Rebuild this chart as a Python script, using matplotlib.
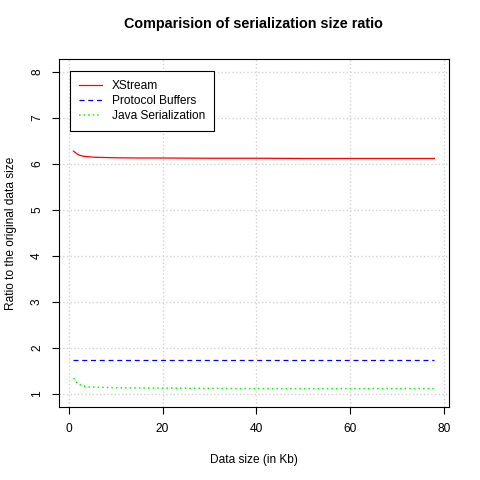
import matplotlib
matplotlib.use('Agg')
from matplotlib import pyplot as plt

plt.rcParams['font.family'] = ['Liberation Sans', 'DejaVu Sans']

data_kb = [1, 2, 3, 4, 5, 6, 8, 10, 15, 20, 30, 40, 50, 60, 70, 78]
xstream = [6.28, 6.20, 6.17, 6.16, 6.15, 6.145, 6.14, 6.135, 6.13, 6.13,
           6.125, 6.125, 6.12, 6.12, 6.12, 6.12]
protobuf = [1.75] * len(data_kb)
java_ser = [1.35, 1.22, 1.18, 1.16, 1.155, 1.15, 1.145, 1.14, 1.135, 1.13,
            1.125, 1.12, 1.12, 1.12, 1.12, 1.12]
x_ticks = [0, 20, 40, 60, 80]
y_ticks = [1, 2, 3, 4, 5, 6, 7, 8]

fig = plt.figure(figsize=(4.8, 4.8), dpi=100)
ax = fig.add_axes([0.123, 0.152, 0.812, 0.725])

# grid first so the lines sit on top
for t in x_ticks:
    ax.axvline(t, color='lightgray', linestyle=':', linewidth=1, zorder=0)
for t in y_ticks:
    ax.axhline(t, color='lightgray', linestyle=':', linewidth=1, zorder=0)

ax.plot(data_kb, xstream, color='red', linewidth=0.9, label='XStream')
ax.plot(data_kb, protobuf, color='blue', linewidth=0.9, linestyle=(0, (4, 3)), label='Protocol Buffers')
ax.plot(data_kb, java_ser, color='#00FF00', linewidth=1.1, linestyle=(0, (1, 2)), label='Java Serialization')

ax.set_xlim(-2.08, 81.08)
ax.set_ylim(0.72, 8.28)
ax.set_xticks(x_ticks)
ax.set_yticks(y_ticks)
ax.set_yticklabels([str(t) for t in y_ticks], rotation=90, va='center')
ax.tick_params(direction='out', length=5, width=0.8, labelsize=8.6, pad=6.5)
for s in ax.spines.values():
    s.set_linewidth(0.8)

ax.set_title('Comparision of serialization size ratio', fontsize=10.4,
             fontweight='bold', pad=22)
ax.set_xlabel('Data size (in Kb)', fontsize=8.6, labelpad=14)
ax.set_ylabel('Ratio to the original data size', fontsize=8.6, labelpad=10)

leg = ax.legend(loc='upper left', bbox_to_anchor=(0.028, 0.966), fontsize=8.6,
                fancybox=False, edgecolor='black', framealpha=1,
                handlelength=1.9, borderpad=0.75, labelspacing=0.25,
                handletextpad=0.85, borderaxespad=0)
leg.get_frame().set_linewidth(0.8)

fig.savefig('out.png', dpi=100)
